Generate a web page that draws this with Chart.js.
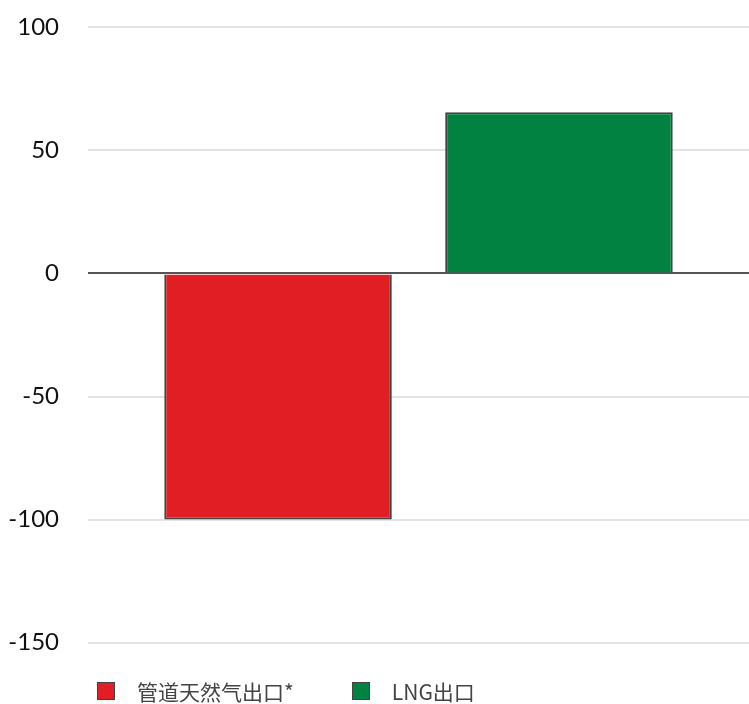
<!DOCTYPE html>
<html lang="zh">
<head>
<meta charset="UTF-8">
<title>出口变化</title>
<script src="https://cdn.jsdelivr.net/npm/chart.js@4.4.0/dist/chart.umd.min.js"></script>
<style>
  html, body { margin: 0; padding: 0; background: #fff; overflow: hidden; }
  .wrap { position: relative; width: 749px; height: 704px; overflow: hidden; }
  .chartBox { position: absolute; left: 0; top: -16px; width: 749px; height: 702px; }
  #legend {
    position: absolute; top: 676px; left: 97px;
    display: flex; align-items: center;
    font-family: "Noto Sans CJK SC", "Noto Sans", sans-serif;
    font-size: 21px; color: #444;
  }
  #legend .item { display: flex; align-items: center; margin-right: 58px; }
  #legend .box { width: 18px; height: 18px; box-sizing: border-box; border: 1px solid #444; margin-right: 22px; }
</style>
</head>
<body>
<div class="wrap">
  <div class="chartBox"><canvas id="chart"></canvas></div>
  <div id="legend"></div>
</div>
<script>
const seriesNames = ['管道天然气出口*', 'LNG出口'];
const seriesValues = [-100, 65.5];
const seriesColors = ['#e01e24', '#028241'];
const yTicks = [-150, -100, -50, 0, 50, 100];

const ctx = document.getElementById('chart').getContext('2d');
const chart = new Chart(ctx, {
    type: 'bar',
    data: {
        labels: [''],
        datasets: seriesNames.map((name, i) => ({
            label: name,
            data: [seriesValues[i]],
            backgroundColor: seriesColors[i],
            borderColor: '#444',
            borderWidth: 2,
            barPercentage: 0.81,
            categoryPercentage: 0.85
        }))
    },
    options: {
        responsive: true,
        maintainAspectRatio: false,
        animation: false,
        layout: { padding: { left: 0, right: 0, top: 0, bottom: 0 } },
        plugins: {
            legend: { display: false },
            tooltip: { enabled: false }
        },
        scales: {
            x: { display: false },
            y: {
                min: yTicks[0],
                max: yTicks[yTicks.length - 1],
                afterBuildTicks(scale) {
                    scale.ticks = yTicks.map(v => ({ value: v }));
                },
                afterFit(scale) { scale.width = 88; },
                border: { display: false },
                grid: {
                    drawTicks: false,
                    lineWidth: 2,
                    color: c => c.tick && c.tick.value === 0 ? '#555' : '#e3e3e3'
                },
                ticks: {
                    padding: 29,
                    color: '#111',
                    font: { family: 'Lato, "Noto Sans", sans-serif', size: 24 }
                }
            }
        }
    }
});

// legend built from the datasets
const legend = document.getElementById('legend');
chart.data.datasets.forEach(ds => {
    const item = document.createElement('div');
    item.className = 'item';
    const box = document.createElement('span');
    box.className = 'box';
    box.style.background = ds.backgroundColor;
    const txt = document.createElement('span');
    txt.textContent = ds.label;
    item.appendChild(box);
    item.appendChild(txt);
    legend.appendChild(item);
});
</script>
</body>
</html>
